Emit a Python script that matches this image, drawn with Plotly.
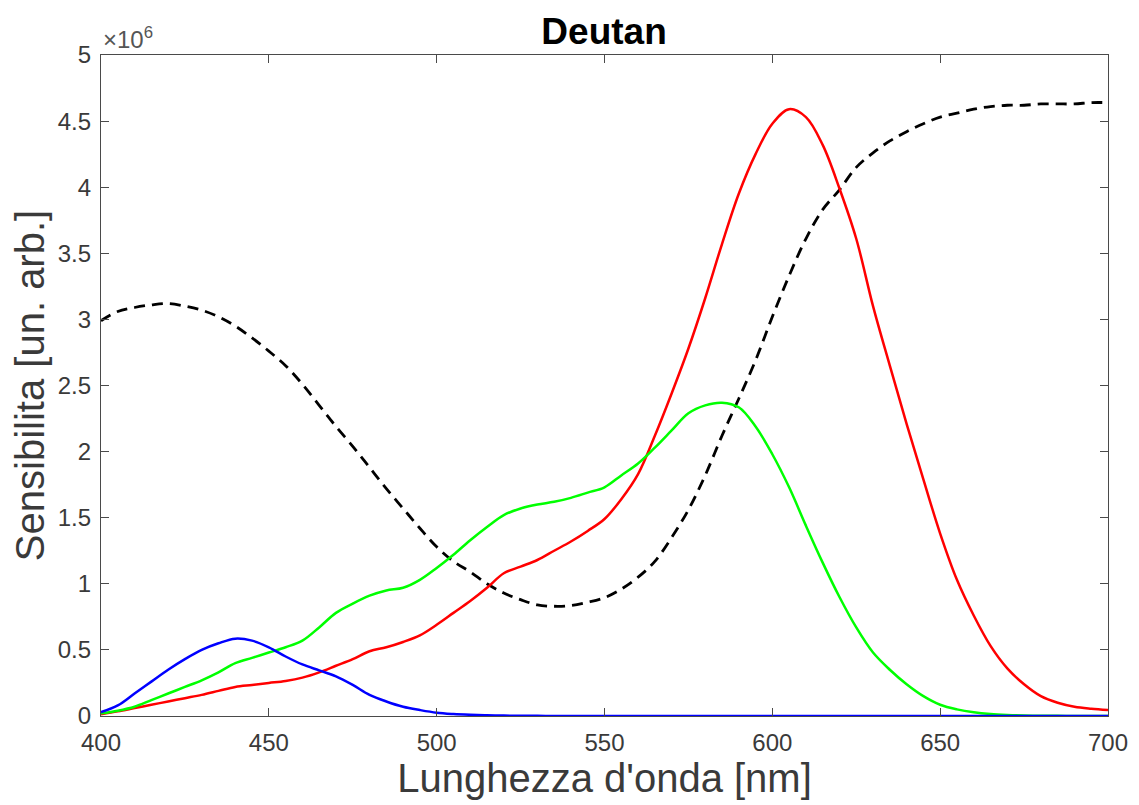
import plotly.graph_objects as go

wavelength = list(range(400, 705, 5))

blue = [0.03, 0.08, 0.17, 0.26, 0.35, 0.43, 0.50, 0.55, 0.585, 0.57,
        0.52, 0.45, 0.39, 0.345, 0.30, 0.235, 0.16, 0.11, 0.07, 0.045,
        0.025, 0.015, 0.009, 0.005, 0.003, 0.002, 0.001, 0, 0, 0,
        0, 0, 0, 0, 0, 0, 0, 0, 0, 0,
        0, 0, 0, 0, 0, 0, 0, 0, 0, 0,
        0, 0, 0, 0, 0, 0, 0, 0, 0, 0, 0]

green = [0.02, 0.04, 0.07, 0.12, 0.17, 0.22, 0.27, 0.33, 0.40, 0.44,
         0.48, 0.52, 0.57, 0.67, 0.78, 0.85, 0.91, 0.95, 0.97, 1.03,
         1.12, 1.22, 1.33, 1.43, 1.52, 1.57, 1.60, 1.62, 1.65, 1.69,
         1.73, 1.82, 1.91, 2.03, 2.16, 2.29, 2.35, 2.37, 2.335, 2.19,
         1.98, 1.73, 1.44, 1.16, 0.90, 0.67, 0.48, 0.35, 0.24, 0.15,
         0.085, 0.05, 0.028, 0.015, 0.008, 0.004, 0.002, 0.001, 0.0005, 0, 0]

red = [0.013, 0.035, 0.06, 0.085, 0.11, 0.135, 0.16, 0.19, 0.22, 0.235,
       0.25, 0.265, 0.29, 0.33, 0.38, 0.43, 0.49, 0.52, 0.56, 0.61,
       0.69, 0.78, 0.87, 0.97, 1.08, 1.13, 1.18, 1.25, 1.32, 1.40,
       1.49, 1.64, 1.83, 2.12, 2.44, 2.78, 3.16, 3.57, 3.95, 4.25,
       4.48, 4.59, 4.53, 4.32, 3.99, 3.61, 3.10, 2.65, 2.21, 1.79,
       1.38, 1.03, 0.76, 0.53, 0.36, 0.24, 0.15, 0.10, 0.07, 0.055, 0.045]

dashed = [2.99, 3.06, 3.09, 3.11, 3.12, 3.10, 3.07, 3.02, 2.95, 2.86,
          2.76, 2.65, 2.51, 2.35, 2.19, 2.04, 1.88, 1.72, 1.57, 1.42,
          1.28, 1.17, 1.09, 1.00, 0.93, 0.88, 0.84, 0.83, 0.835, 0.86,
          0.895, 0.96, 1.05, 1.17, 1.35, 1.56, 1.82, 2.12, 2.40, 2.69,
          3.02, 3.33, 3.61, 3.83, 3.98, 4.15, 4.26, 4.35, 4.42, 4.48,
          4.53, 4.56, 4.59, 4.61, 4.62, 4.62, 4.63, 4.63, 4.63, 4.64, 4.64]

x_ticks = [400, 450, 500, 550, 600, 650, 700]
y_ticks = [0, 0.5, 1, 1.5, 2, 2.5, 3, 3.5, 4, 4.5, 5]
y_ticklabels = ["0", "0.5", "1", "1.5", "2", "2.5", "3", "3.5", "4", "4.5", "5"]

FONT = "Liberation Sans, Arial, Helvetica, sans-serif"
AXCOL = "#4a4a4a"
TXT = "#3a3a3a"

fig = go.Figure()
fig.add_trace(go.Scatter(x=wavelength, y=dashed, mode="lines",
                         line=dict(color="black", width=2.8, dash="11px,7px", shape="spline", smoothing=1.0)))
fig.add_trace(go.Scatter(x=wavelength, y=red, mode="lines",
                         line=dict(color="#ff0000", width=2.5, shape="spline", smoothing=1.0)))
fig.add_trace(go.Scatter(x=wavelength, y=green, mode="lines",
                         line=dict(color="#00ff00", width=2.5, shape="spline", smoothing=1.0)))
fig.add_trace(go.Scatter(x=wavelength, y=blue, mode="lines",
                         line=dict(color="#0000ff", width=2.5, shape="spline", smoothing=1.0)))

axis_common = dict(showline=True, linecolor=AXCOL, linewidth=1.3, mirror="ticks",
                   ticks="inside", ticklen=8, tickwidth=1.2, tickcolor=AXCOL,
                   showgrid=False, zeroline=False, automargin=False,
                   tickfont=dict(family=FONT, size=24, color=TXT))

# page body has an 8px offset, so the figure is 8px smaller and margins shifted
fig.update_layout(
    width=1131, height=797,
    paper_bgcolor="white", plot_bgcolor="white",
    margin=dict(l=93, r=31, t=47, b=89),
    showlegend=False,
    title=dict(text="<b>Deutan</b>", x=0.527, xanchor="center", y=0.971, yanchor="middle",
               font=dict(family=FONT, size=37, color="black")),
    xaxis=dict(range=[400, 700], tickvals=x_ticks, ticklabelstandoff=5,
               title=dict(text="Lunghezza d'onda [nm]", font=dict(family=FONT, size=40, color=TXT), standoff=2),
               **axis_common),
    yaxis=dict(range=[0, 5], tickvals=y_ticks, ticktext=y_ticklabels, ticklabelstandoff=4,
               title=dict(text="Sensibilita [un. arb.]", font=dict(family=FONT, size=40, color=TXT), standoff=2),
               **axis_common),
    annotations=[dict(text="×10<sup>6</sup>", xref="paper", yref="paper", x=0.0, y=1.0,
                      xanchor="left", yanchor="bottom", showarrow=False,
                      font=dict(family=FONT, size=24, color="#555555"))],
)

fig.write_html("out.html")
